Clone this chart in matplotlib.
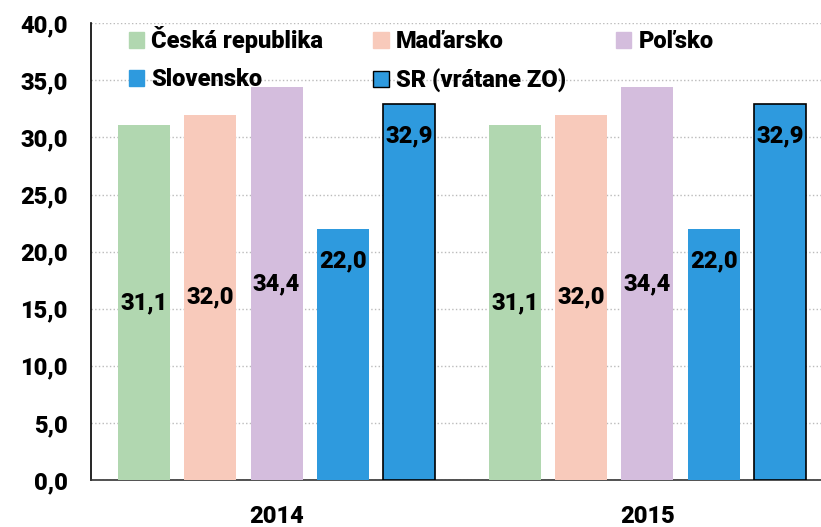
import numpy as np
from matplotlib import pyplot as plt
from matplotlib.patches import Patch

plt.rcParams['font.family'] = ['Roboto', 'DejaVu Sans']
plt.rcParams['font.weight'] = 900

# Data
years = ['2014', '2015']
countries = ['Česká republika', 'Maďarsko', 'Poľsko', 'Slovensko', 'SR (vrátane ZO)']
cz = [31.1, 31.1]
hu = [32.0, 32.0]
pl = [34.4, 34.4]
sk = [22.0, 22.0]
sr = [32.9, 32.9]
series = [cz, hu, pl, sk, sr]
colors = ['#b1d7b0', '#f8cabb', '#d4bddd', '#2e9ade', '#2e9ade']

fig = plt.figure(figsize=(8.21, 5.27), dpi=100)
ax = fig.add_axes([0.111, 0.089, 0.889, 0.867])

x = np.arange(len(years))
step = 0.179
width = 0.14
for i, (vals, c) in enumerate(zip(series, colors)):
    pos = x + (i - 2) * step
    if i == 4:
        bars = ax.bar(pos, vals, width, color=c, edgecolor='black', linewidth=1.2, zorder=3)
    else:
        bars = ax.bar(pos, vals, width, color=c, edgecolor='none', zorder=3)
    for b, v in zip(bars, vals):
        lbl = f'{v:.1f}'.replace('.', ',')
        if i >= 3:
            y = v - 2.8
        else:
            y = v / 2
        ax.text(b.get_x() + b.get_width() / 2, y, lbl, ha='center', va='center',
                fontsize=17, fontweight=900, zorder=4)

ax.set_ylim(0, 40)
ax.set_yticks(np.arange(0, 41, 5))
ax.set_yticklabels([f'{t:.1f}'.replace('.', ',') for t in np.arange(0, 41, 5)])
ax.set_xlim(-0.5, 1.468)
ax.set_xticks(x)
ax.set_xticklabels(years)
ax.tick_params(axis='both', length=0, labelsize=17)
ax.tick_params(axis='y', pad=17)
ax.tick_params(axis='x', pad=18)
ax.yaxis.grid(True, color='#bbbbbb', linestyle=':', linewidth=1, zorder=0)
ax.set_axisbelow(True)
for s in ['top', 'right']:
    ax.spines[s].set_visible(False)
ax.spines['left'].set_color('black')
ax.spines['bottom'].set_color('#333333')
ax.spines['left'].set_linewidth(1.2)
ax.spines['bottom'].set_linewidth(1.2)

order = [0, 3, 1, 4, 2]
handles = []
for i in order:
    ec = 'black' if i == 4 else colors[i]
    handles.append(Patch(facecolor=colors[i], edgecolor=ec, linewidth=1.0, label=countries[i]))
ax.legend(handles=handles, ncol=3, loc='upper left', bbox_to_anchor=(0.026, 1.035),
          frameon=False, fontsize=17, handlelength=0.65, handleheight=0.65,
          handletextpad=0.3, columnspacing=2.12, labelspacing=0.65, borderpad=0.3)

plt.savefig('out.png', dpi=100)
